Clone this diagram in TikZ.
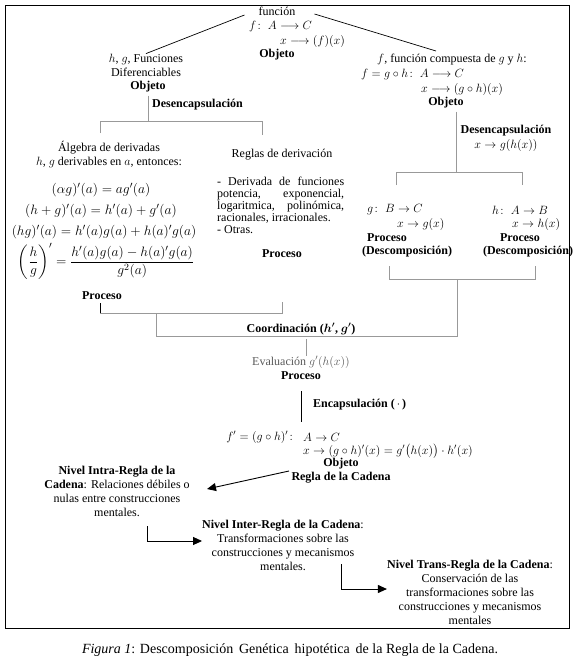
\RequirePackage{fix-cm}
\documentclass[tikz,border=0pt]{standalone}
\usepackage{amsmath}
\usepackage{fontspec}
\setmainfont{Liberation Serif}
\usetikzlibrary{arrows.meta}

\tikzset{
  plain/.style={font=\fontsize{12}{14}\selectfont, inner sep=0pt, align=center},
  strong/.style={plain, font=\fontsize{12}{14}\selectfont\bfseries},
  formula/.style={plain, font=\fontsize{13.6}{16}\selectfont},
  bracket/.style={draw=black!40, line width=0.6pt},
  stem/.style={draw=black, line width=0.7pt},
  flowarrow/.style={draw=black, line width=0.9pt, -{Triangle[length=9pt,width=8pt]}},
}

\begin{document}
\begin{tikzpicture}[x=1pt,y=-1pt]
    \useasboundingbox (0,0) rectangle (573,662);
    \draw[line width=0.8pt] (5.5,5.5) rectangle (569.5,628);

    % funcion f (objeto)
    \node[plain] (func) at (277,11) {función};
    \node[plain, anchor=west] (fdom) at (249,26) {$f\colon\ A\longrightarrow C$};
    \node[plain, anchor=west] (frule) at (280,41) {$x\longrightarrow (f)(x)$};
    \node[strong] (fobj) at (277,55) {Objeto};

    % rama izquierda
    \node[plain] (hg) at (146,65) {$h$, $g$, Funciones\\Diferenciables};
    \node[strong] (hgobj) at (148,87) {Objeto};
    \node[strong, anchor=west] (desenl) at (152,105) {Desencapsulación};

    % rama derecha
    \node[plain] (comp) at (452,60) {$f$, función compuesta de $g$ y $h$:};
    \node[plain, anchor=west] (fgh) at (361,74) {$f = g\circ h\colon\ A\longrightarrow C$};
    \node[plain, anchor=west] (xgh) at (421,89) {$x\longrightarrow (g\circ h)(x)$};
    \node[strong] (compobj) at (446,103) {Objeto};
    \node[strong] (desenr) at (506,131) {Desencapsulación};
    \node[plain] (xghx) at (506,145) {$x\to g(h(x))$};

    \draw[stem] (func.west) ++(-14,4) coordinate (tl) -- (hg.north);
    \draw[stem] (func.east) ++(19,3) coordinate (tr) -- (436,51);

    % algebra de derivadas
    \node[plain] (alg) at (109,155) {Álgebra de derivadas\\$h$, $g$ derivables en $a$, entonces:};
    \node[formula] (eqa) at (101,190) {$(\alpha g)'(a) = a g'(a)$};
    \node[formula] (eqb) at (101,211) {$(h+g)'(a) = h'(a) + g'(a)$};
    \node[formula] (eqc) at (104,232) {$(hg)'(a) = h'(a)g(a) + h(a)'g(a)$};
    \node[formula] (eqd) at (106,261) {$\left(\dfrac{h}{g}\right)' = \dfrac{h'(a)g(a) - h(a)'g(a)}{g^2(a)}$};
    \node[strong] (algproc) at (102,296) {Proceso};

    % reglas de derivacion
    \node[plain] (reg) at (282,155) {Reglas de derivación};
    \node[plain, anchor=north west, text width=127pt, align=justify,
          font=\fontsize{12}{12}\selectfont] (regtxt) at (217,177)
          {- Derivada de funciones\linebreak potencia, exponencial,\linebreak
           logaritmica, polinómica,\linebreak racionales, irracionales.\\- Otras.};
    \node[strong] (regproc) at (282,254) {Proceso};

    % descomposicion g y h
    \node[plain, anchor=west] (gmap) at (367,210) {$g\colon\; B\to C$};
    \node[plain, anchor=west] (grule) at (397,224) {$x\to g(x)$};
    \node[strong] (gproc) at (387,238) {Proceso};
    \node[strong] (gdesc) at (407,252) {(Descomposición)};
    \node[plain, anchor=west] (hmap) at (492,210) {$h\colon\; A\to B$};
    \node[plain, anchor=west] (hrule) at (512,224) {$x\to h(x)$};
    \node[strong] (hproc) at (520,238) {Proceso};
    \node[strong] (hdesc) at (528,252) {(Descomposición)};

    % llaves grises
    \coordinate (jl) at (148,121);
    \draw[bracket] ([yshift=-3pt]hgobj.south) -- (jl);
    \draw[bracket] (100,133) -- (100,121) -- (262,121) -- (262,135);
    \coordinate (jr) at (456,172);
    \draw[bracket] ([yshift=-3pt]compobj.south -| jr) -- (jr);
    \draw[bracket] (396,185) -- (396,172) -- (522,172) -- (522,185);

    \draw[stem] (100,303) -- (100,313);
    \draw[bracket] (100,313) -- (282,313) -- (282,302);
    \draw[bracket] (389,266) -- (389,279) -- (535,279) -- (535,266);
    \draw[bracket] (156,313) -- (156,336) -- (457,336) -- (457,279);

    % coordinacion y evaluacion
    \node[strong] (coord) at (301,329) {Coordinación ($\boldsymbol{h'}$, $\boldsymbol{g'}$)};
    \node[plain, text=black!65] (eval) at (301,362) {Evaluación $g'(h(x))$};
    \node[strong] (evalproc) at (301,376) {Proceso};
    \draw[bracket] (306,339) -- (eval.north -| 306,0);
    \node[strong, anchor=west] (encap) at (313,405) {Encapsulación (\,$\cdot$\,)};
    \draw[stem] (301,391) -- (301,422);

    % regla de la cadena
    \node[plain, anchor=east] (fprime) at (297,437) {$f' = (g\circ h)'\colon$};
    \node[plain, anchor=west] (fpmap) at (303,437) {$A\to C$};
    \node[plain, anchor=west] (fprule) at (303,451) {$x\to (g\circ h)'(x) = g'\bigl(h(x)\bigr)\cdot h'(x)$};
    \node[strong] (cadena) at (341,471) {Objeto\\Regla de la Cadena};

    % niveles
    \node[plain] (intra) at (117,491) {\textbf{Nivel Intra-Regla de la}\\\textbf{Cadena}: Relaciones débiles o\\nulas entre construcciones\\mentales.};
    \node[plain] (inter) at (283,545) {\textbf{Nivel Inter-Regla de la Cadena}:\\Transformaciones sobre las\\construcciones y mecanismos\\mentales.};
    \node[plain] (trans) at (470,592) {\textbf{Nivel Trans-Regla de la Cadena}:\\Conservación de las\\transformaciones sobre las\\construcciones y mecanismos\\mentales};

    \draw[flowarrow] (289,471) -- (207,489);
    \draw[flowarrow] (147,526) |- (inter.west |- 0,541);
    \draw[flowarrow] (341,564) |- (trans.west |- 0,589);

    \node[plain, font=\fontsize{14}{16}\selectfont] (caption) at (290,650)
        {\textit{Figura 1}: Descomposición\, Genética\, hipotética\, de la Regla de la Cadena.};
\end{tikzpicture}
\end{document}
